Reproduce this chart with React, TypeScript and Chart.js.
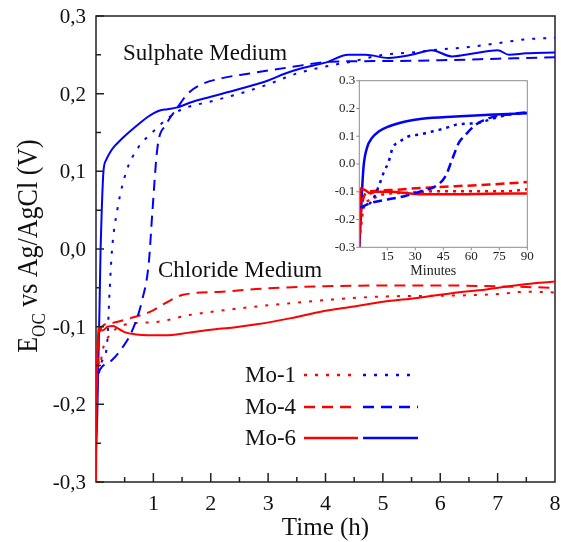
import React, { useEffect, useRef } from "react";
import { Chart, registerables } from "chart.js";

Chart.register(...registerables);

const FONT = '"Liberation Serif", "Times New Roman", serif';
const RED = "#ff0000";
const BLUE = "#0000ff";

// ---------- Main chart (time in hours, potential in V) ----------
const xTickValues = [1, 2, 3, 4, 5, 6, 7, 8];
const xMinorTickValues = [0.5, 1.5, 2.5, 3.5, 4.5, 5.5, 6.5, 7.5];
const yTickValues = [-0.3, -0.2, -0.1, 0, 0.1, 0.2, 0.3];
const yMinorTickValues = [-0.25, -0.15, -0.05, 0.05, 0.15, 0.25];

// Sulphate medium (blue)
const sulMo6Hours = [0, 0.02, 0.04, 0.06, 0.08, 0.1, 0.13, 0.18, 0.25, 0.32, 0.45, 0.6, 0.73, 0.9, 1.1, 1.25, 1.4, 1.7, 2.0, 2.5, 3.0, 3.3, 3.6, 4.0, 4.4, 4.7, 5.1, 5.5, 5.85, 6.2, 6.6, 7.0, 7.2, 7.5, 8.0];
const sulMo6Volts = [-0.26, -0.22, -0.15, -0.08, 0.0, 0.05, 0.1, 0.115, 0.125, 0.132, 0.142, 0.152, 0.16, 0.17, 0.178, 0.18, 0.182, 0.19, 0.196, 0.206, 0.217, 0.226, 0.233, 0.24, 0.25, 0.25, 0.246, 0.25, 0.256, 0.248, 0.252, 0.256, 0.25, 0.252, 0.253];
const sulMo1Hours = [0.05, 0.1, 0.19, 0.24, 0.28, 0.37, 0.53, 0.73, 0.98, 1.28, 1.5, 2.0, 2.5, 3.0, 3.5, 4.0, 4.5, 5.0, 5.5, 6.0, 6.5, 7.0, 7.5, 8.0];
const sulMo1Volts = [-0.16, -0.145, -0.125, -0.05, 0.0, 0.05, 0.1, 0.13, 0.15, 0.17, 0.18, 0.19, 0.2, 0.212, 0.226, 0.235, 0.242, 0.25, 0.253, 0.257, 0.26, 0.265, 0.27, 0.272];
const sulMo4Hours = [0.03, 0.1, 0.28, 0.45, 0.62, 0.8, 0.92, 0.98, 1.07, 1.22, 1.4, 1.6, 1.81, 2.2, 2.68, 3.38, 4.08, 5.0, 6.0, 7.0, 8.0];
const sulMo4Volts = [-0.16, -0.152, -0.143, -0.128, -0.107, -0.067, -0.018, 0.045, 0.13, 0.16, 0.18, 0.2, 0.211, 0.22, 0.226, 0.234, 0.241, 0.242, 0.243, 0.245, 0.247];

// Chloride medium (red)
const chlMo6Hours = [0, 0.01, 0.03, 0.06, 0.1, 0.14, 0.2, 0.3, 0.4, 0.5, 0.7, 0.9, 1.2, 1.6, 2.0, 2.4, 2.8, 3.4, 3.9, 4.5, 5.0, 5.6, 6.2, 6.8, 7.4, 8.0];
const chlMo6Volts = [-0.3, -0.2, -0.12, -0.1, -0.105, -0.104, -0.1, -0.099, -0.103, -0.107, -0.11, -0.111, -0.111, -0.108, -0.104, -0.101, -0.097, -0.089, -0.081, -0.074, -0.068, -0.063, -0.057, -0.052, -0.046, -0.042];
const chlMo4Hours = [0.01, 0.03, 0.06, 0.1, 0.3, 0.6, 0.94, 1.2, 1.52, 2.2, 2.9, 4.0, 5.0, 6.0, 7.0, 8.0];
const chlMo4Volts = [-0.2, -0.15, -0.11, -0.1, -0.095, -0.089, -0.081, -0.07, -0.059, -0.055, -0.051, -0.048, -0.047, -0.047, -0.048, -0.05];
const chlMo1Hours = [0.02, 0.06, 0.13, 0.24, 0.47, 1.05, 1.63, 2.22, 2.8, 3.38, 3.96, 5.06, 6.22, 7.0, 7.5, 8.0];
const chlMo1Volts = [-0.13, -0.15, -0.126, -0.111, -0.098, -0.094, -0.085, -0.079, -0.074, -0.07, -0.066, -0.061, -0.06, -0.058, -0.055, -0.056];

// ---------- Inset (first 90 minutes) ----------
const insetXTickValues = [15, 30, 45, 60, 75, 90];
const insetYTickValues = [-0.3, -0.2, -0.1, 0, 0.1, 0.2, 0.3];

const inSulMo6Min = [0, 0.3, 1.4, 2.3, 4.1, 6.8, 10.4, 15.7, 24.7, 33.6, 51.5, 69.4, 90];
const inSulMo6Volts = [-0.3, -0.26, -0.103, -0.008, 0.058, 0.094, 0.117, 0.135, 0.153, 0.163, 0.171, 0.177, 0.183];
const inSulMo1Min = [1.4, 6.8, 10.4, 13, 15.7, 17.9, 22, 26.5, 31, 35.4, 40.8, 46.2, 51.5, 56.9, 63.1, 70, 78, 90];
const inSulMo1Volts = [-0.157, -0.133, -0.08, -0.032, 0.008, 0.058, 0.082, 0.1, 0.105, 0.111, 0.12, 0.129, 0.141, 0.145, 0.147, 0.16, 0.175, 0.185];
const inSulMo4Min = [0.5, 6.8, 15.7, 24.7, 33.6, 40.8, 46.2, 49.7, 53.3, 56.9, 62.3, 69.4, 78.4, 90];
const inSulMo4Volts = [-0.157, -0.139, -0.127, -0.115, -0.097, -0.08, -0.044, 0.016, 0.076, 0.105, 0.141, 0.165, 0.177, 0.187];
const inChlMo6Min = [0, 0.5, 3.2, 5.9, 8.6, 15.7, 33.6, 51.5, 69.4, 90];
const inChlMo6Volts = [-0.3, -0.088, -0.094, -0.106, -0.1, -0.1, -0.109, -0.109, -0.107, -0.106];
const inChlMo4Min = [0.5, 2.3, 5, 15.7, 33.6, 51.5, 69.4, 90];
const inChlMo4Volts = [-0.187, -0.121, -0.1, -0.094, -0.086, -0.08, -0.074, -0.065];
const inChlMo1Min = [0.5, 2.3, 6.8, 12.2, 24.7, 42.6, 60.5, 78.4, 90];
const inChlMo1Volts = [-0.247, -0.157, -0.127, -0.11, -0.104, -0.098, -0.098, -0.098, -0.091];

const legendLabels = ["Mo-1", "Mo-4", "Mo-6"];

const DOT = [3, 8];
const DASH = [11, 7];
const IN_DOT = [3, 5];
const IN_DASH = [9, 5];

function pts(xs: number[], ys: number[]) {
  return xs.map((x, i) => ({ x, y: ys[i] }));
}

function ds(label: string, xs: number[], ys: number[], color: string, dash: number[], width = 2) {
  return {
    label,
    data: pts(xs, ys),
    borderColor: color,
    backgroundColor: color,
    borderWidth: width,
    borderDash: dash,
    pointRadius: 0,
    cubicInterpolationMode: "monotone" as const,
    fill: false,
  };
}

function fmtComma(v: number) {
  if (Math.abs(v) < 1e-9) return "0,0";
  return v.toFixed(1).replace(".", ",");
}
function fmtDot(v: number) {
  if (Math.abs(v) < 1e-9) return "0.0";
  return v.toFixed(1);
}

const mainDecor = {
  id: "mainDecor",
  beforeDatasetsDraw(chart: any) {
    const { ctx, chartArea } = chart;
    const { left, right, top, bottom } = chartArea;
    ctx.save();
    ctx.strokeStyle = "#222";
    ctx.lineWidth = 1.5;
    ctx.strokeRect(left, top, right - left, bottom - top);
    ctx.restore();
  },
  afterDraw(chart: any) {
    const { ctx, chartArea } = chart;
    const { left, right, bottom } = chartArea;
    const xs = chart.scales.x;
    const ys = chart.scales.y;
    ctx.save();
    ctx.strokeStyle = "#222";
    ctx.lineWidth = 1.5;
    ctx.setLineDash([]);
    // inward ticks
    ctx.beginPath();
    xTickValues.forEach((v) => {
      if (v >= 8) return;
      const px = xs.getPixelForValue(v);
      ctx.moveTo(px, bottom);
      ctx.lineTo(px, bottom - 9);
    });
    xMinorTickValues.forEach((v) => {
      const px = xs.getPixelForValue(v);
      ctx.moveTo(px, bottom);
      ctx.lineTo(px, bottom - 5);
    });
    yTickValues.forEach((v) => {
      const py = ys.getPixelForValue(v);
      ctx.moveTo(left, py);
      ctx.lineTo(left + 8, py);
    });
    yMinorTickValues.forEach((v) => {
      const py = ys.getPixelForValue(v);
      ctx.moveTo(left, py);
      ctx.lineTo(left + 5, py);
    });
    ctx.stroke();

    ctx.fillStyle = "#111";
    // x tick labels
    ctx.font = `22px ${FONT}`;
    ctx.textAlign = "center";
    ctx.textBaseline = "alphabetic";
    xTickValues.forEach((v) => {
      ctx.fillText(String(v), xs.getPixelForValue(v), 510);
    });
    // y tick labels
    ctx.font = `21px ${FONT}`;
    ctx.textAlign = "right";
    ctx.textBaseline = "middle";
    yTickValues.forEach((v) => {
      ctx.fillText(fmtComma(v), left - 10, ys.getPixelForValue(v) + 1.5);
    });

    // x title
    ctx.font = `25px ${FONT}`;
    ctx.textAlign = "center";
    ctx.textBaseline = "alphabetic";
    ctx.fillText("Time (h)", (left + right) / 2, 535);

    // y title with subscript
    ctx.save();
    ctx.translate(37, 246);
    ctx.rotate(-Math.PI / 2);
    ctx.scale(1, 1.12);
    ctx.textAlign = "left";
    ctx.font = `26px ${FONT}`;
    const wE = ctx.measureText("E").width;
    const rest = " vs Ag/AgCl (V)";
    const wRest = ctx.measureText(rest).width;
    ctx.font = `17px ${FONT}`;
    const wSub = ctx.measureText("OC").width;
    const x0 = -(wE + wSub + wRest) / 2;
    ctx.font = `26px ${FONT}`;
    ctx.fillText("E", x0, 0);
    ctx.font = `17px ${FONT}`;
    ctx.fillText("OC", x0 + wE, 7);
    ctx.font = `26px ${FONT}`;
    ctx.fillText(rest, x0 + wE + wSub, 0);
    ctx.restore();

    // annotations
    ctx.font = `23px ${FONT}`;
    ctx.textAlign = "left";
    ctx.fillText("Sulphate Medium", 123, 60);
    ctx.fillText("Chloride Medium", 158, 277);

    // legend
    const rows = [375, 407, 438];
    const dashes = [DOT, DASH, []];
    rows.forEach((y, i) => {
      ctx.fillStyle = "#111";
      ctx.font = `23px ${FONT}`;
      ctx.textBaseline = "middle";
      ctx.fillText(legendLabels[i], 245, y + 1);
      ctx.lineWidth = 2.5;
      ctx.setLineDash(dashes[i]);
      ctx.strokeStyle = RED;
      ctx.beginPath();
      ctx.moveTo(304, y);
      ctx.lineTo(358, y);
      ctx.stroke();
      ctx.strokeStyle = BLUE;
      ctx.beginPath();
      ctx.moveTo(363, y);
      ctx.lineTo(418, y);
      ctx.stroke();
    });
    ctx.restore();
  },
};

const insetDecor = {
  id: "insetDecor",
  beforeDatasetsDraw(chart: any) {
    const { ctx, chartArea } = chart;
    const { left, right, top, bottom } = chartArea;
    ctx.save();
    ctx.fillStyle = "#fff";
    ctx.fillRect(left, top, right - left, bottom - top);
    ctx.restore();
  },
  afterDraw(chart: any) {
    const { ctx, chartArea } = chart;
    const { left, right, top, bottom } = chartArea;
    const xs = chart.scales.x;
    const ys = chart.scales.y;
    ctx.save();
    ctx.strokeStyle = "#8c8c8c";
    ctx.lineWidth = 1;
    ctx.setLineDash([]);
    ctx.strokeRect(left, top, right - left, bottom - top);
    ctx.beginPath();
    insetXTickValues.forEach((v) => {
      const px = xs.getPixelForValue(v);
      ctx.moveTo(px, bottom);
      ctx.lineTo(px, bottom + 3);
    });
    insetYTickValues.forEach((v) => {
      const py = ys.getPixelForValue(v);
      ctx.moveTo(left, py);
      ctx.lineTo(left - 3, py);
    });
    ctx.stroke();
    ctx.fillStyle = "#222";
    ctx.font = `13px ${FONT}`;
    ctx.textAlign = "center";
    ctx.textBaseline = "middle";
    insetXTickValues.forEach((v) => {
      ctx.fillText(String(v), xs.getPixelForValue(v), bottom + 9);
    });
    ctx.textAlign = "right";
    insetYTickValues.forEach((v) => {
      ctx.fillText(fmtDot(v), left - 4, ys.getPixelForValue(v));
    });
    ctx.font = `14px ${FONT}`;
    ctx.textAlign = "center";
    ctx.fillText("Minutes", left + 74, bottom + 24);
    ctx.restore();
  },
};

export default function App() {
  const mainRef = useRef<HTMLCanvasElement | null>(null);
  const insetRef = useRef<HTMLCanvasElement | null>(null);

  useEffect(() => {
    const main = new Chart(mainRef.current as HTMLCanvasElement, {
      type: "line",
      data: {
        datasets: [
          ds("Sulphate Mo-1", sulMo1Hours, sulMo1Volts, BLUE, DOT),
          ds("Sulphate Mo-4", sulMo4Hours, sulMo4Volts, BLUE, DASH),
          ds("Chloride Mo-1", chlMo1Hours, chlMo1Volts, RED, DOT),
          ds("Chloride Mo-4", chlMo4Hours, chlMo4Volts, RED, DASH),
          ds("Chloride Mo-6", chlMo6Hours, chlMo6Volts, RED, []),
          ds("Sulphate Mo-6", sulMo6Hours, sulMo6Volts, BLUE, []),
        ],
      },
      options: {
        animation: false,
        responsive: false,
        maintainAspectRatio: false,
        devicePixelRatio: 1,
        layout: { padding: { left: 0, right: 6, top: 16, bottom: 0 } },
        plugins: { legend: { display: false }, tooltip: { enabled: false }, title: { display: false } },
        scales: {
          x: {
            type: "linear",
            min: 0,
            max: 8,
            ticks: { display: false, stepSize: 1 },
            grid: { display: false },
            border: { display: false },
            afterFit: (s: any) => {
              s.height = 60;
            },
          },
          y: {
            type: "linear",
            min: -0.3,
            max: 0.3,
            ticks: { display: false, stepSize: 0.1 },
            grid: { display: false },
            border: { display: false },
            afterFit: (s: any) => {
              s.width = 96;
            },
          },
        },
      } as any,
      plugins: [mainDecor],
    });

    const inset = new Chart(insetRef.current as HTMLCanvasElement, {
      type: "line",
      data: {
        datasets: [
          ds("Sulphate Mo-1", inSulMo1Min, inSulMo1Volts, BLUE, IN_DOT, 2.5),
          ds("Sulphate Mo-4", inSulMo4Min, inSulMo4Volts, BLUE, IN_DASH, 2.5),
          ds("Chloride Mo-1", inChlMo1Min, inChlMo1Volts, RED, IN_DOT, 2.5),
          ds("Chloride Mo-4", inChlMo4Min, inChlMo4Volts, RED, IN_DASH, 2.5),
          ds("Chloride Mo-6", inChlMo6Min, inChlMo6Volts, RED, [], 2.5),
          ds("Sulphate Mo-6", inSulMo6Min, inSulMo6Volts, BLUE, [], 2.5),
        ],
      },
      options: {
        animation: false,
        responsive: false,
        maintainAspectRatio: false,
        devicePixelRatio: 1,
        layout: { padding: { left: 0, right: 12.7, top: 10.7, bottom: 0 } },
        plugins: { legend: { display: false }, tooltip: { enabled: false }, title: { display: false } },
        scales: {
          x: {
            type: "linear",
            min: 0,
            max: 90,
            ticks: { display: false, stepSize: 15 },
            grid: { display: false },
            border: { display: false },
            afterFit: (s: any) => {
              s.height = 37.7;
            },
          },
          y: {
            type: "linear",
            min: -0.3,
            max: 0.3,
            ticks: { display: false, stepSize: 0.1 },
            grid: { display: false },
            border: { display: false },
            afterFit: (s: any) => {
              s.width = 49.3;
            },
          },
        },
      } as any,
      plugins: [insetDecor],
    });

    return () => {
      main.destroy();
      inset.destroy();
    };
  }, []);

  return (
    <div style={{ position: "absolute", left: 0, top: 0, width: 561, height: 542, background: "#fff" }}>
      <canvas
        ref={mainRef}
        width={561}
        height={542}
        style={{ position: "absolute", left: 0, top: 0, width: 561, height: 542 }}
      />
      <canvas
        ref={insetRef}
        width={230}
        height={215}
        style={{ position: "absolute", left: 310, top: 70, width: 230, height: 215 }}
      />
    </div>
  );
}
